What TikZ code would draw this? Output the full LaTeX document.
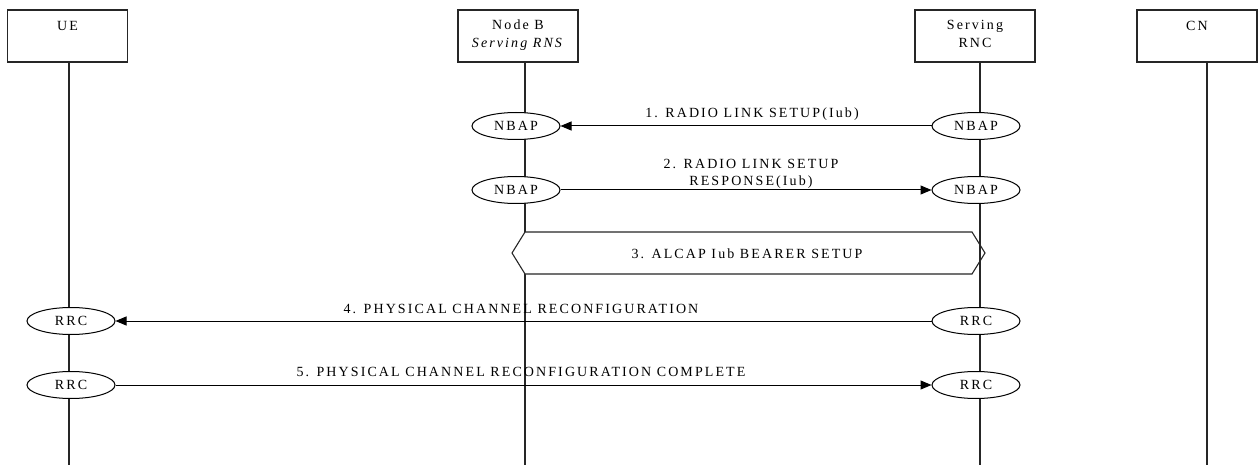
\documentclass[tikz,border=0pt]{standalone}
\usepackage{fontspec}
\setmainfont{Liberation Serif}[LetterSpace=15]
\usetikzlibrary{arrows.meta,shapes.geometric}
\begin{document}
\begin{tikzpicture}[x=1pt,y=-1pt,
  line/.style={draw=black!85,line width=1.1pt},
  entity/.style={line,fill=white,minimum width=120pt,minimum height=52pt,inner sep=0pt},
  proto/.style={ellipse,draw=black,line width=1pt,fill=white,minimum width=88pt,minimum height=27pt,inner sep=0pt,font=\fontsize{14}{15}\selectfont},
  msg/.style={draw=black,line width=1pt,-{Triangle[length=11pt,width=9pt]}},
  lbl/.style={font=\fontsize{14}{17}\selectfont,align=center,inner sep=0pt},
  etxt/.style={font=\fontsize{14}{18}\selectfont,align=center,inner sep=0pt,anchor=north}]
\useasboundingbox (0,0) rectangle (1258,465);
% entity boxes
\node[entity] (ue) at (67.5,36) {};
\node[entity] (nb) at (518,36) {};
\node[entity] (rnc) at (975,36) {};
\node[entity] (cn) at (1197,36) {};
\node[etxt] (uet) at (67.5,21) {UE};
\node[etxt] (nbt) at (518,20) {Node B\\\textit{Serving RNS}};
\node[etxt] (rnct) at (975,20) {Serving\\RNC};
\node[etxt] (cnt) at (1197,21) {CN};
% lifeline ends
\coordinate (ueb) at (69,465);
\coordinate (nbb) at (525,465);
\coordinate (rncb) at (980,465);
\coordinate (cnb) at (1207,465);
\coordinate (uet0) at (69,62);
\coordinate (nbt0) at (525,62);
\coordinate (rnct0) at (980,62);
\coordinate (cnt0) at (1207,62);
\draw[line] (uet0) -- (ueb);
\draw[line] (nbt0) -- (nbb);
\draw[line] (rnct0) -- (rncb);
\draw[line] (cnt0) -- (cnb);
% hexagon 3
\coordinate (h1) at (525,232);
\coordinate (h2) at (972,232);
\coordinate (h3) at (985,253);
\coordinate (h4) at (972,274);
\coordinate (h5) at (525,274);
\coordinate (h6) at (512,253);
\draw[line,fill=white] (h1) -- (h2) -- (h3) -- (h4) -- (h5) -- (h6) -- cycle;
\coordinate (hl1) at (980,230);
\coordinate (hl2) at (980,276);
\draw[line] (hl1) -- (hl2);
\node[lbl] (m3) at (747,254) {3. ALCAP Iub BEARER SETUP};
% protocol ellipses
\node[proto] (nb1) at (516,126) {NBAP};
\node[proto] (rnc1) at (976,126) {NBAP};
\node[proto] (nb2) at (516,190) {NBAP};
\node[proto] (rnc2) at (976,190) {NBAP};
\node[proto] (ue4) at (71,321) {RRC};
\node[proto] (rnc4) at (976,321) {RRC};
\node[proto] (ue5) at (71,385) {RRC};
\node[proto] (rnc5) at (976,385) {RRC};
% messages
\draw[msg] (rnc1.west) -- (nb1.east);
\node[lbl] (m1) at (752,114) {1. RADIO LINK SETUP(Iub)};
\draw[msg] (nb2.east) -- (rnc2.west);
\node[lbl] (m2) at (751,174) {2. RADIO LINK SETUP\\RESPONSE(Iub)};
\draw[msg] (rnc4.west) -- (ue4.east);
\node[lbl] (m4) at (521,309) {4. PHYSICAL CHANNEL RECONFIGURATION};
\draw[msg] (ue5.east) -- (rnc5.west);
\node[lbl] (m5) at (521,372) {5. PHYSICAL CHANNEL RECONFIGURATION COMPLETE};
\end{tikzpicture}
\end{document}
